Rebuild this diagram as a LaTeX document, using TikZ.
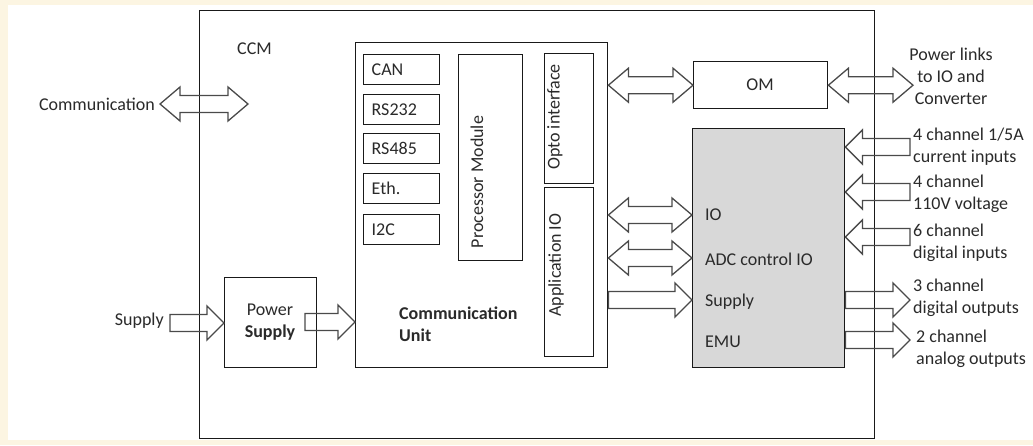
\documentclass[tikz,border=0pt]{standalone}
\usepackage{fontspec}
\setmainfont{Carlito}
\usetikzlibrary{calc}
\definecolor{cream}{HTML}{FCF5E2}
\definecolor{txt}{HTML}{2A2A2A}
\definecolor{arrc}{HTML}{4A4A4A}
\definecolor{emugray}{HTML}{D8D8D8}
\tikzset{
  box/.style={draw=black!90, line width=1.4pt, fill=white, inner sep=0pt, anchor=north west},
  lbl/.style={text=txt, inner sep=1pt, font=\fontsize{18}{22}\selectfont},
  rot/.style={lbl, rotate=90},
  blk/.style={draw=arrc, line width=1.3pt, line join=miter},
  iface/.style={box, text width=60pt, inner xsep=8pt, minimum height=30pt, align=left, text=txt, font=\fontsize{18}{22}\selectfont}
}
\newcommand\dblarr[2]{\draw[blk] let \p1=#1, \p2=#2 in
  (\x1,\y1) -- (\x1+20pt,\y1+17pt) -- (\x1+20pt,\y1+8.5pt) -- (\x2-20pt,\y1+8.5pt) -- (\x2-20pt,\y1+17pt)
  -- (\x2,\y1) -- (\x2-20pt,\y1-17pt) -- (\x2-20pt,\y1-8.5pt) -- (\x1+20pt,\y1-8.5pt) -- (\x1+20pt,\y1-17pt) -- cycle;}
\newcommand\rarr[2]{\draw[blk] let \p1=#1, \p2=#2 in
  (\x1,\y1+8.5pt) -- (\x2-17pt,\y1+8.5pt) -- (\x2-17pt,\y1+17pt) -- (\x2,\y1)
  -- (\x2-17pt,\y1-17pt) -- (\x2-17pt,\y1-8.5pt) -- (\x1,\y1-8.5pt) -- cycle;}
\newcommand\larr[2]{\draw[blk] let \p1=#1, \p2=#2 in
  (\x1,\y1+8.5pt) -- (\x2+17pt,\y1+8.5pt) -- (\x2+17pt,\y1+17pt) -- (\x2,\y1)
  -- (\x2+17pt,\y1-17pt) -- (\x2+17pt,\y1-8.5pt) -- (\x1,\y1-8.5pt) -- cycle;}
\begin{document}
\begin{tikzpicture}[x=1pt,y=-1pt]
\useasboundingbox (0,0) rectangle (1033,445);
\fill[cream] (0,0) rectangle (1033,445);
\fill[white] (8,5) rectangle (1033,440);

% main boxes
\node[box, minimum width=675pt, minimum height=428pt] (ccm) at (199,10) {};
\node[lbl, anchor=west] (ccmlbl) at (236,49) {CCM};

\node[box, minimum width=252pt, minimum height=325pt] (cu) at (355,42) {};
\node[iface] (can) at (363,54) {CAN};
\node[iface] (rs232) at (363,94) {RS232};
\node[iface] (rs485) at (363,133) {RS485};
\node[iface] (eth) at (363,173) {Eth.};
\node[iface] (i2c) at (363,214) {I2C};
\node[box, minimum width=64pt, minimum height=206pt] (proc) at (458,54) {};
\node[rot] (proclbl) at (477,182) {Processor Module};
\node[box, minimum width=49pt, minimum height=130pt] (opto) at (544,53) {};
\node[rot] (optolbl) at (555,117) {Opto interface};
\node[box, minimum width=49pt, minimum height=169pt] (appio) at (544,187) {};
\node[rot] (appiolbl) at (556,265) {Application IO};
\node[lbl, anchor=west, align=left, font=\fontsize{18}{22}\selectfont\bfseries] (culbl) at (398,324) {Communication\\Unit};

\node[box, minimum width=92pt, minimum height=90pt] (ps) at (224,277) {};
\node[lbl, align=center] (pslbl) at (270,322) {Power\\\textbf{Supply}};

\node[box, minimum width=134pt, minimum height=47pt] (om) at (693,61) {};
\node[lbl] (omlbl) at (760,85) {OM};

\node[box, fill=emugray, minimum width=152pt, minimum height=239pt] (emu) at (692,128) {};
\node[lbl, anchor=west] (io) at (704,215) {IO};
\node[lbl, anchor=west] (adc) at (704,259) {ADC control IO};
\node[lbl, anchor=west] (sup) at (704,302) {Supply};
\node[lbl, anchor=west] (emulbl) at (704,342) {EMU};

% outside labels
\node[lbl, anchor=east] (comm) at (156,104) {Communication};
\node[lbl, anchor=east] (supply) at (165,321) {Supply};
\node[lbl, align=center] (pl) at (951,76) {Power links\\to IO and\\Converter};
\node[lbl, anchor=west, align=left] (t1) at (912,147) {4 channel 1/5A\\current inputs};
\node[lbl, anchor=west, align=left] (t2) at (912,194) {4 channel\\110V voltage};
\node[lbl, anchor=west, align=left] (t3) at (912,243) {6 channel\\digital inputs};
\node[lbl, anchor=west, align=left] (t4) at (912,298) {3 channel\\digital outputs};
\node[lbl, anchor=west, align=left] (t5) at (915,349) {2 channel\\analog outputs};

% free ends
\coordinate (commL) at (160,104);
\coordinate (commR) at (248,104);
\coordinate (supL) at (170,323);
\coordinate (psR) at (305,322);
\coordinate (omout) at (913,85);
\coordinate (in1) at (910,147);
\coordinate (in2) at (910,192);
\coordinate (in3) at (910,237);
\coordinate (out1) at (910,300);
\coordinate (out2) at (910,340);
\coordinate (ioy) at (0,215);
\coordinate (adcy) at (0,258);
\coordinate (supy) at (0,300);

% connectors
\dblarr{(commL)}{(commR)}
\rarr{(supL)}{(ps.west |- supL)}
\rarr{(psR)}{(cu.west |- psR)}
\dblarr{(cu.east |- om.west)}{(om.west)}
\dblarr{(om.east)}{(omout)}
\dblarr{(cu.east |- ioy)}{(emu.west |- ioy)}
\dblarr{(cu.east |- adcy)}{(emu.west |- adcy)}
\rarr{(cu.east |- supy)}{(emu.west |- supy)}
\larr{(in1)}{(emu.east |- in1)}
\larr{(in2)}{(emu.east |- in2)}
\larr{(in3)}{(emu.east |- in3)}
\rarr{(emu.east |- out1)}{(out1)}
\rarr{(emu.east |- out2)}{(out2)}
\end{tikzpicture}
\end{document}
